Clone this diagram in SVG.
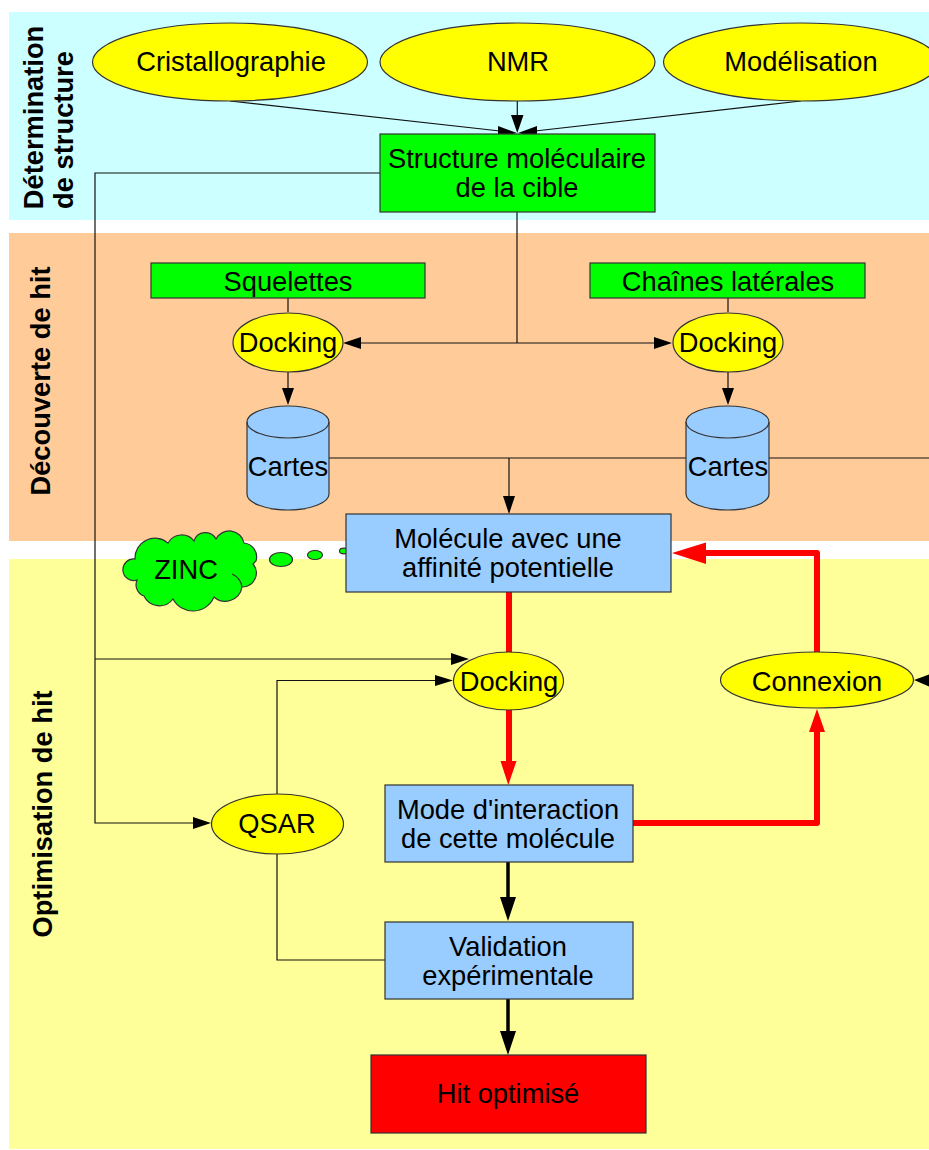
<svg xmlns="http://www.w3.org/2000/svg" width="929" height="1150" viewBox="0 0 929 1150">
<style>
text{font-family:"Liberation Sans",Arial,sans-serif;font-size:27.3px;fill:#000;text-anchor:middle}
.t{font-weight:bold;font-size:27.3px}
.s{stroke:#333;stroke-width:1.2}
.y{fill:#ff0}.g{fill:#0f0}.b{fill:#9cf}
.c{fill:none;stroke:#111;stroke-width:1.2}
.k{fill:none;stroke:#000;stroke-width:3.5}
.r{fill:none;stroke:#f00;stroke-width:6;stroke-linejoin:round}
.ah{fill:#000}.ar{fill:#f00}
</style>
<g id="bands">
<rect x="9" y="12" width="920" height="208" fill="#cff"/>
<rect x="9" y="233" width="920" height="308" fill="#fc9"/>
<rect x="9" y="559" width="920" height="590" fill="#ff9"/>
<text class="t" transform="translate(43,117.500) rotate(-90)">Détermination</text>
<text class="t" transform="translate(73,130) rotate(-90)">de structure</text>
<text class="t" transform="translate(50,381) rotate(-90)">Découverte de hit</text>
<text class="t" transform="translate(52,814) rotate(-90)">Optimisation de hit</text>
</g>
<g id="connectors">
<path class="c" d="M230 101L500 131M517.300 101V118M801 101L535 131"/>
<path class="ah" d="M517.300 133L511 115H523.500ZM517 133L498 126V137ZM518 133L537 126V137Z"/>
<path class="c" d="M380 173H95V823H195M95 659H455M517 212V343M360 343H655M288 298V312M728 298V312M288 372V390M728 372V390M329 458H929M509 458V498M277 794V680.500H438M277 854V960H385"/>
<path class="ah" d="M343 343L361 337V349ZM672 343L654 337V349ZM288 405L282 388H294ZM728 405L722 388H734ZM509 514L503 496H515ZM211 823L193 817V829ZM469 659L451 653V665ZM453 680.500L435 675V686ZM914 680L930 674V687Z"/>
<path class="r" d="M509 592V768"/>
<path class="ar" d="M508.300 785L500.500 761H516.500Z"/>
<path class="r" d="M633 823H817V728"/>
<path class="ar" d="M817 709L825 732H809Z"/>
<path class="r" d="M817 652V553H700"/>
<path class="ar" d="M672 553L706 542.500V564Z"/>
<path class="k" d="M508 862V904M508 999V1038"/>
<path class="ah" d="M508 921L500 897H516ZM508 1055L500 1031H516Z"/>
</g>
<g id="cristallographie"><ellipse class="s y" cx="230" cy="62" rx="137.500" ry="39"/><text x="231" y="71">Cristallographie</text></g>
<g id="nmr"><ellipse class="s y" cx="517.500" cy="62" rx="137.500" ry="39"/><text x="518" y="71">NMR</text></g>
<g id="modelisation"><ellipse class="s y" cx="801" cy="62" rx="137.500" ry="39"/><text x="801" y="71">Modélisation</text></g>
<g id="structure"><rect class="s g" x="380" y="134" width="275" height="78"/><text x="517" y="168">Structure moléculaire</text><text x="517" y="197">de la cible</text></g>
<g id="squelettes"><rect class="s g" x="151" y="263" width="274" height="35"/><text x="288" y="291">Squelettes</text></g>
<g id="chaines"><rect class="s g" x="590" y="263" width="275" height="35"/><text x="728" y="291">Chaînes latérales</text></g>
<g id="docking1"><ellipse class="s y" cx="288" cy="342.500" rx="55" ry="29.500"/><text x="288" y="352">Docking</text></g>
<g id="docking2"><ellipse class="s y" cx="728" cy="342.500" rx="55" ry="29.500"/><text x="728" y="352">Docking</text></g>
<g id="cartes1"><path class="s b" d="M247 422A41 16 0 0 1 329 422V494A41 16 0 0 1 247 494Z"/><path class="s" fill="none" d="M247 422A41 16 0 0 0 329 422"/><text x="288" y="476">Cartes</text></g>
<g id="cartes2"><path class="s b" d="M686 422A41.500 16 0 0 1 769 422V494A41.500 16 0 0 1 686 494Z"/><path class="s" fill="none" d="M686 422A41.500 16 0 0 0 769 422"/><text x="728" y="476">Cartes</text></g>
<g id="zinc">
<path class="s g" d="M135 559A20 20 0 0 1 168 543A15.600 15.600 0 0 1 194 541A12 12 0 0 1 216 539A15 15 0 0 1 244 543A14 14 0 0 1 256 561L253 564A14 14 0 0 1 242 587A17 17 0 0 1 214 597A22.700 22.700 0 0 1 173 599A17 17 0 0 1 144 596A12 12 0 0 1 137 580A10.800 10.800 0 1 1 135 559Z"/>
<path class="s" fill="none" d="M232 574A17 17 0 0 1 242 587"/>
<ellipse class="s g" cx="281" cy="559.500" rx="11.500" ry="7"/>
<ellipse class="s g" cx="315" cy="555" rx="7.500" ry="4.500"/>
<ellipse class="s g" cx="344" cy="551" rx="4.500" ry="2.800"/>
<text x="186" y="579">ZINC</text>
</g>
<g id="molecule"><rect class="s b" x="346" y="514" width="325" height="78"/><text x="508" y="548">Molécule avec une</text><text x="508" y="577">affinité potentielle</text></g>
<g id="docking3"><ellipse class="s y" cx="508.500" cy="681" rx="55" ry="29"/><text x="509" y="691">Docking</text></g>
<g id="connexion"><ellipse class="s y" cx="817" cy="680" rx="96.500" ry="28"/><text x="817" y="691">Connexion</text></g>
<g id="qsar"><ellipse class="s y" cx="277.500" cy="824" rx="66" ry="30"/><text x="277" y="833">QSAR</text></g>
<g id="mode"><rect class="s b" x="385" y="785" width="248" height="77"/><text x="508" y="819">Mode d'interaction</text><text x="508" y="848">de cette molécule</text></g>
<g id="validation"><rect class="s b" x="385" y="922" width="248" height="77"/><text x="508" y="956">Validation</text><text x="508" y="985">expérimentale</text></g>
<g id="hit"><rect class="s" fill="#f00" x="371" y="1055" width="275" height="78"/><text x="508" y="1103">Hit optimisé</text></g>
</svg>
